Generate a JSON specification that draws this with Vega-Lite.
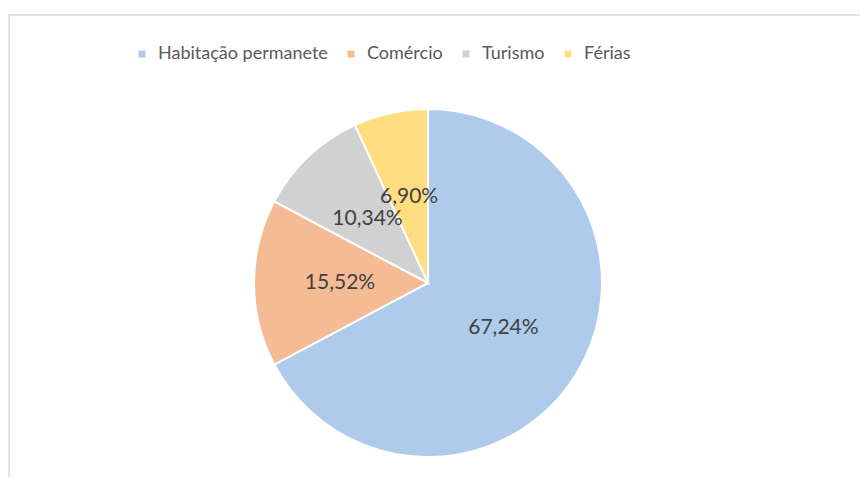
{
  "$schema": "https://vega.github.io/schema/vega-lite/v6.json",
  "width": 871,
  "height": 462,
  "padding": {"left": 9, "top": 15, "right": -20, "bottom": 0},
  "autosize": {"type": "none"},
  "background": "white",
  "view": {"stroke": "#d9d9d9", "strokeWidth": 1.5, "fill": "white", "strokeDash": [871, 1333, 470, 0]},
  "config": {
    "locale": {"number": {"decimal": ",", "thousands": ".", "grouping": [3], "currency": ["", " €"]}}
  },
  "data": {
    "values": [
      {"categoria": "Habitação permanete", "valor": 0.6724, "ordem": 1},
      {"categoria": "Comércio", "valor": 0.1552, "ordem": 2},
      {"categoria": "Turismo", "valor": 0.1034, "ordem": 3},
      {"categoria": "Férias", "valor": 0.069, "ordem": 4}
    ]
  },
  "encoding": {
    "theta": {"field": "valor", "type": "quantitative", "stack": true},
    "order": {"field": "ordem", "type": "quantitative"}
  },
  "layer": [
    {
      "mark": {"type": "arc", "radius": 174, "stroke": "white", "strokeWidth": 2, "xOffset": -16.5, "yOffset": 37},
      "encoding": {
        "color": {
          "field": "categoria",
          "type": "nominal",
          "sort": ["Habitação permanete", "Comércio", "Turismo", "Férias"],
          "scale": {
            "domain": ["Habitação permanete", "Comércio", "Turismo", "Férias"],
            "range": ["#aecbeb", "#f5bb95", "#d1d1d1", "#ffdd80"]
          },
          "legend": {
            "orient": "none",
            "legendX": 124,
            "legendY": 30,
            "direction": "horizontal",
            "title": null,
            "symbolType": "square",
            "symbolSize": 49,
            "symbolStrokeWidth": 0,
            "labelFont": "Lato",
            "labelFontSize": 18,
            "labelColor": "#595959",
            "labelLimit": 400,
            "labelOffset": 7,
            "columnPadding": 14,
            "padding": 0
          }
        }
      }
    },
    {
      "mark": {"type": "text", "radius": 88, "xOffset": -16.5, "yOffset": 37, "font": "Lato", "fontSize": 21, "fill": "#404040"},
      "encoding": {
        "text": {"field": "valor", "type": "quantitative", "format": ".2%"}
      }
    }
  ]
}
